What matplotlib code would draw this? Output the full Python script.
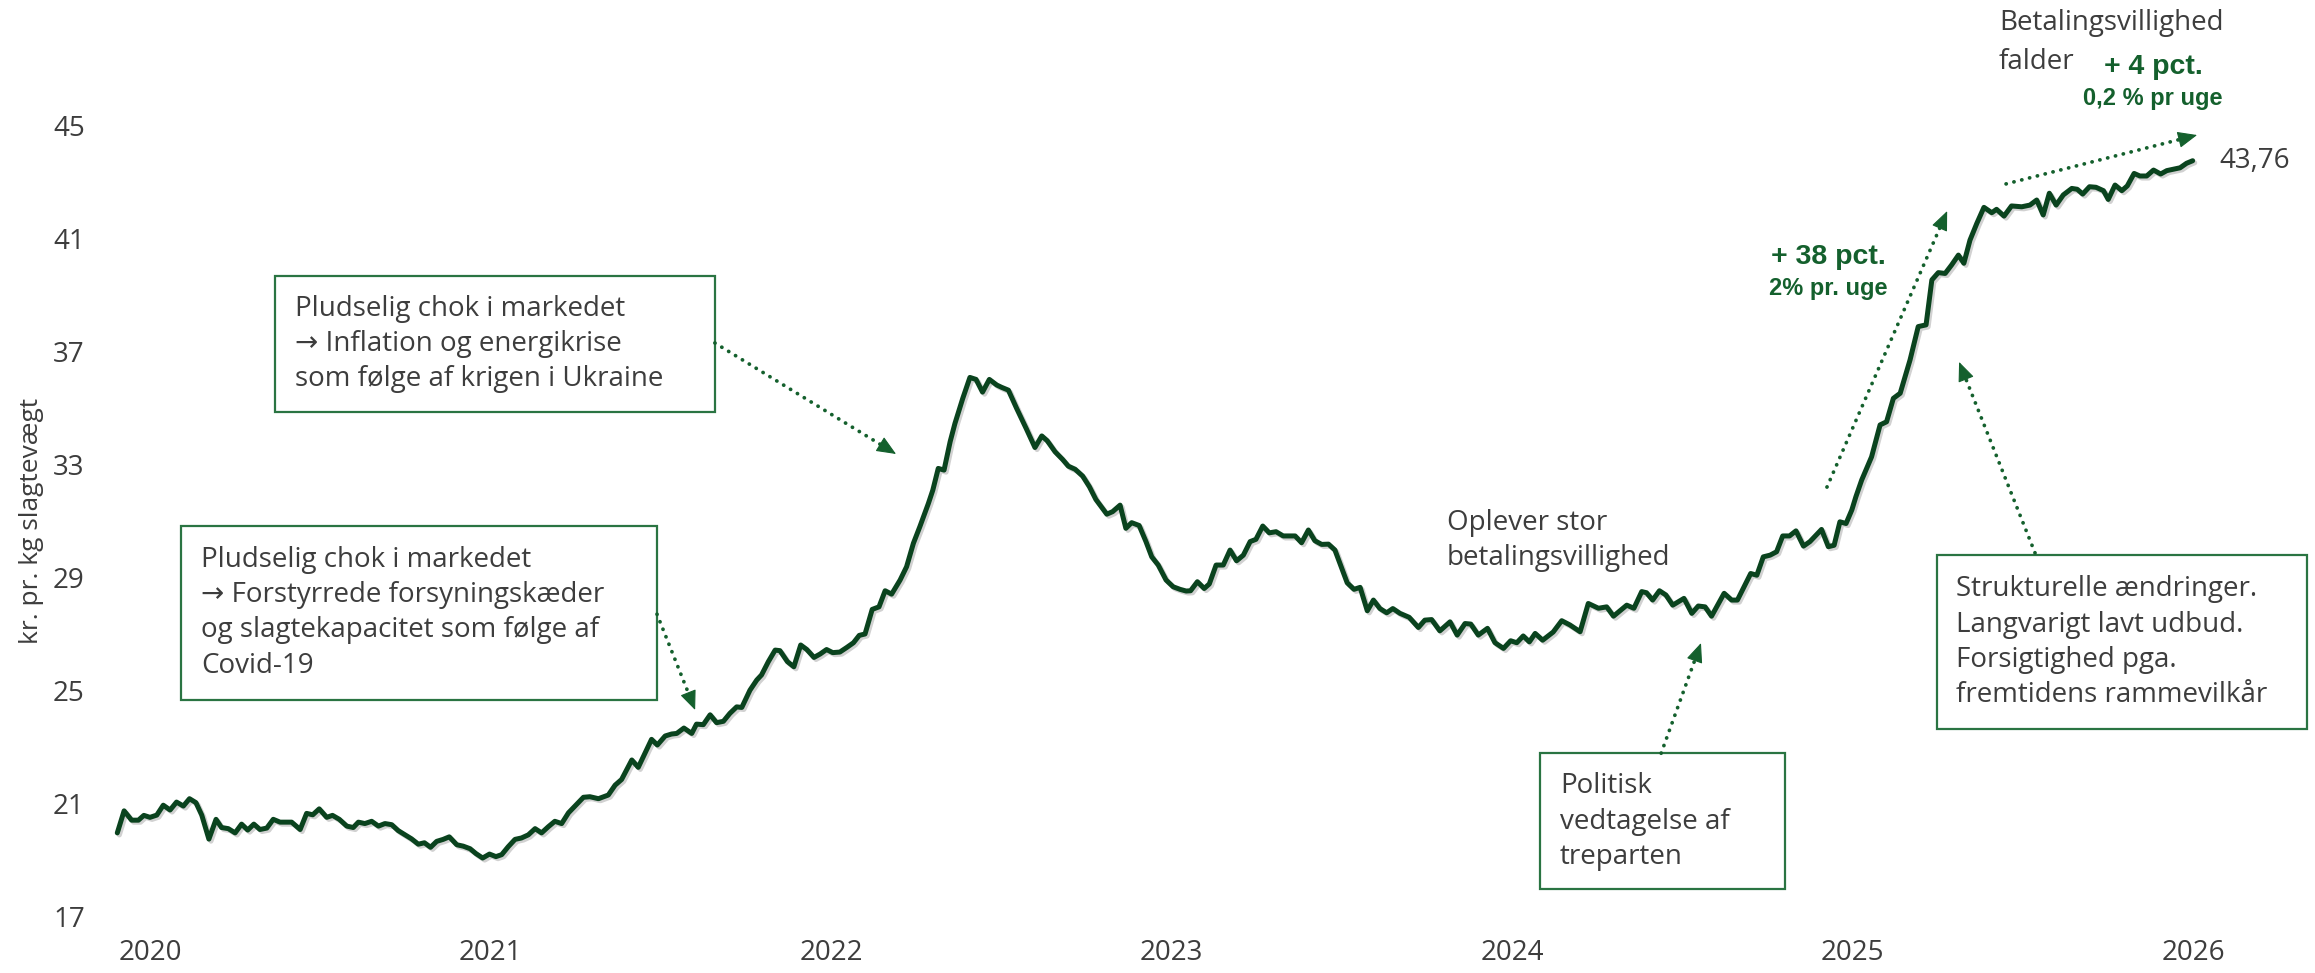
import matplotlib
matplotlib.use('Agg')
import matplotlib.pyplot as plt
import matplotlib.patheffects as pe
from matplotlib.patches import Rectangle
import numpy as np

# Notering pr. uge, kr. pr. kg slagtevægt
uge = [
    2019.904, 2019.924, 2019.946, 2019.966, 2019.982, 2020.000, 2020.020, 2020.039,
    2020.059, 2020.078, 2020.098, 2020.116, 2020.135, 2020.152, 2020.173, 2020.194,
    2020.210, 2020.230, 2020.250, 2020.269, 2020.287, 2020.305, 2020.323, 2020.343,
    2020.362, 2020.382, 2020.416, 2020.441, 2020.460, 2020.478, 2020.497, 2020.519,
    2020.536, 2020.556, 2020.578, 2020.597, 2020.612, 2020.631, 2020.651, 2020.671,
    2020.690, 2020.710, 2020.729, 2020.749, 2020.768, 2020.788, 2020.806, 2020.824,
    2020.842, 2020.861, 2020.879, 2020.901, 2020.920, 2020.940, 2020.957, 2020.977,
    2020.997, 2021.016, 2021.033, 2021.052, 2021.072, 2021.091, 2021.111, 2021.131,
    2021.150, 2021.170, 2021.189, 2021.209, 2021.229,
    2021.273, 2021.292, 2021.317, 2021.346, 2021.366, 2021.385, 2021.415, 2021.434,
    2021.473, 2021.490, 2021.513, 2021.532, 2021.547, 2021.568, 2021.591, 2021.605,
    2021.625, 2021.645, 2021.664, 2021.684, 2021.703, 2021.723, 2021.738, 2021.762,
    2021.782, 2021.796, 2021.816, 2021.836, 2021.850, 2021.872, 2021.891, 2021.911,
    2021.929, 2021.950, 2021.968, 2021.987, 2022.005, 2022.026, 2022.046, 2022.066,
    2022.083, 2022.100, 2022.121, 2022.141, 2022.159, 2022.178, 2022.203, 2022.222,
    2022.242, 2022.261, 2022.286, 2022.299, 2022.315, 2022.332, 2022.350,
    2022.364, 2022.387, 2022.408, 2022.426, 2022.445, 2022.465, 2022.487, 2022.501,
    2022.521, 2022.545, 2022.573, 2022.599, 2022.619, 2022.635, 2022.658, 2022.680,
    2022.697, 2022.717, 2022.739, 2022.759, 2022.778, 2022.810, 2022.827, 2022.849,
    2022.866, 2022.883, 2022.905, 2022.925, 2022.942, 2022.961, 2022.984, 2023.005,
    2023.025, 2023.043, 2023.056, 2023.076, 2023.096, 2023.111, 2023.131, 2023.152,
    2023.172, 2023.191, 2023.211, 2023.231, 2023.248, 2023.268, 2023.287, 2023.307,
    2023.328, 2023.363, 2023.382, 2023.402, 2023.421, 2023.441, 2023.461, 2023.480,
    2023.500, 2023.516, 2023.536, 2023.554, 2023.575, 2023.593, 2023.612, 2023.632,
    2023.650,
    2023.671, 2023.698, 2023.725, 2023.744, 2023.764, 2023.788, 2023.818, 2023.839,
    2023.862, 2023.879, 2023.901, 2023.928, 2023.950, 2023.975, 2023.996, 2024.014,
    2024.033, 2024.051, 2024.068, 2024.090, 2024.121, 2024.146, 2024.170, 2024.200,
    2024.224, 2024.254, 2024.278, 2024.298, 2024.337, 2024.358, 2024.381, 2024.395,
    2024.413, 2024.433, 2024.452, 2024.472, 2024.505, 2024.528, 2024.547, 2024.567,
    2024.586, 2024.623, 2024.645, 2024.662, 2024.679, 2024.701, 2024.719, 2024.738,
    2024.758, 2024.777, 2024.795, 2024.815, 2024.834, 2024.856, 2024.875, 2024.909,
    2024.929, 2024.946, 2024.963, 2024.981, 2024.998, 2025.010,
    2025.027, 2025.056, 2025.081, 2025.100, 2025.120, 2025.140, 2025.169, 2025.193,
    2025.216, 2025.233, 2025.252, 2025.272, 2025.291, 2025.311, 2025.327, 2025.345,
    2025.365, 2025.386, 2025.409, 2025.423, 2025.445, 2025.467, 2025.497, 2025.521,
    2025.541, 2025.560, 2025.578, 2025.598, 2025.619, 2025.644, 2025.660, 2025.676,
    2025.696, 2025.715, 2025.737, 2025.751, 2025.771, 2025.791, 2025.807, 2025.827,
    2025.844, 2025.864, 2025.884, 2025.905, 2025.923, 2025.942, 2025.962, 2025.981,
    2025.999,
]
pris = [
    19.97, 20.75, 20.42, 20.42, 20.59, 20.52, 20.60, 20.95,
    20.78, 21.06, 20.92, 21.18, 21.04, 20.60, 19.75, 20.45,
    20.16, 20.12, 19.97, 20.28, 20.07, 20.28, 20.09, 20.14,
    20.45, 20.35, 20.35, 20.09, 20.66, 20.61, 20.82, 20.52,
    20.59, 20.45, 20.21, 20.16, 20.35, 20.30, 20.38, 20.21,
    20.30, 20.26, 20.05, 19.90, 19.76, 19.57, 19.62, 19.46,
    19.67, 19.74, 19.83, 19.55, 19.50, 19.41, 19.24, 19.08,
    19.22, 19.13, 19.20, 19.48, 19.74, 19.79, 19.90, 20.12,
    19.97, 20.19, 20.38, 20.30, 20.68,
    21.23, 21.25, 21.18, 21.31, 21.66, 21.86, 22.55, 22.29,
    23.28, 23.08, 23.40, 23.47, 23.49, 23.68, 23.49, 23.82,
    23.80, 24.15, 23.87, 23.92, 24.20, 24.43, 24.41, 25.02,
    25.38, 25.56, 26.03, 26.44, 26.42, 26.03, 25.85, 26.62,
    26.46, 26.18, 26.30, 26.46, 26.35, 26.37, 26.53, 26.70,
    26.96, 27.01, 27.88, 27.97, 28.54, 28.42, 28.92, 29.39,
    30.22, 30.81, 31.63, 32.10, 32.87, 32.81, 33.82,
    34.46, 35.35, 36.09, 36.02, 35.57, 36.02, 35.82, 35.74,
    35.64, 35.00, 34.29, 33.61, 34.02, 33.85, 33.46, 33.19,
    32.95, 32.84, 32.60, 32.22, 31.77, 31.25, 31.34, 31.57,
    30.75, 30.95, 30.85, 30.28, 29.74, 29.45, 28.92, 28.68,
    28.59, 28.53, 28.54, 28.86, 28.62, 28.78, 29.45, 29.45,
    29.98, 29.60, 29.80, 30.28, 30.36, 30.83, 30.59, 30.63,
    30.48, 30.48, 30.24, 30.69, 30.31, 30.18, 30.19, 29.98,
    29.33, 28.82, 28.59, 28.66, 27.83, 28.21, 27.91, 27.76,
    27.91,
    27.74, 27.60, 27.24, 27.50, 27.52, 27.12, 27.44, 26.97,
    27.38, 27.36, 26.97, 27.21, 26.70, 26.50, 26.77, 26.70,
    26.94, 26.73, 27.03, 26.79, 27.08, 27.48, 27.33, 27.09,
    28.09, 27.92, 27.97, 27.64, 28.03, 27.92, 28.51, 28.47,
    28.21, 28.54, 28.39, 28.03, 28.27, 27.74, 28.00, 27.97,
    27.64, 28.45, 28.21, 28.21, 28.62, 29.15, 29.09, 29.74,
    29.80, 29.92, 30.48, 30.48, 30.66, 30.12, 30.28, 30.71,
    30.10, 30.15, 30.98, 30.92, 31.40, 31.87,
    32.46, 33.28, 34.41, 34.52, 35.35, 35.53, 36.71, 37.89,
    37.95, 39.54, 39.80, 39.77, 40.07, 40.42, 40.13, 40.95,
    41.54, 42.11, 41.92, 42.04, 41.80, 42.16, 42.13, 42.19,
    42.37, 41.84, 42.61, 42.19, 42.55, 42.78, 42.75, 42.58,
    42.84, 42.82, 42.70, 42.39, 42.90, 42.70, 42.87, 43.31,
    43.22, 43.22, 43.43, 43.29, 43.41, 43.46, 43.51, 43.67,
    43.76,
]

aar = [2020, 2021, 2022, 2023, 2024, 2025, 2026]
y_ticks = [17, 21, 25, 29, 33, 37, 41, 45]

LINE = '#0a431e'
GREEN = '#14602d'
BOX = '#2a7442'
GREY = '#3d3d3d'

plt.rcParams['font.family'] = ['Open Sans', 'DejaVu Sans']


def dotted_arrow(ax, start, end, head=17):
    # prikket linje med en udfyldt pilespids (spidsen tegnes for sig, ellers bliver den prikket)
    p0 = ax.transData.transform(start)
    p1 = ax.transData.transform(end)
    u = (p1 - p0) / np.hypot(*(p1 - p0))
    base = ax.transData.inverted().transform(p1 - u * head)
    ax.plot([start[0], base[0]], [start[1], base[1]], color=GREEN, lw=2.7,
            linestyle=(0, (0.05, 2.1)), dash_capstyle='round', clip_on=False)
    ax.annotate('', xy=end, xytext=base, annotation_clip=False,
                arrowprops=dict(arrowstyle=f'-|>,head_length={head * 0.72},head_width=5.2',
                                mutation_scale=1, color=GREEN, lw=0.8,
                                shrinkA=0, shrinkB=0))


def box(ax, x0, y0, x1, y1):
    ax.add_patch(Rectangle((x0, y0), x1 - x0, y1 - y0, fill=False,
                           edgecolor=BOX, lw=1.6, clip_on=False))


fig = plt.figure(figsize=(23.15, 9.73), dpi=100)
ax = fig.add_axes([100 / 2315, 56.2 / 973, 2200 / 2315, 791.1 / 973])

ax.set_xlim(2019.8532, 2026.3142)
ax.set_ylim(17, 45)

ax.plot(uge, pris, color=LINE, lw=3.6, solid_joinstyle='round', solid_capstyle='round',
        path_effects=[pe.SimpleLineShadow(offset=(1.5, -1.5), shadow_color='black', alpha=0.18),
                      pe.Normal()])

ax.set_xticks(aar)
ax.set_xticklabels([str(a) for a in aar])
ax.set_yticks(y_ticks)
ax.tick_params(axis='both', length=0, labelsize=20, labelcolor=GREY)
ax.tick_params(axis='y', pad=11)
ax.tick_params(axis='x', pad=16)
for s in ax.spines.values():
    s.set_visible(False)

fig.text(32 / 2315, 1 - 521 / 973, 'kr. pr. kg slagtevægt', rotation=90,
         ha='center', va='center', fontsize=19, color=GREY)

# seneste notering
ax.annotate(f'{pris[-1]:.2f}'.replace('.', ','), xy=(uge[-1], pris[-1]),
            xytext=(19, 0), textcoords='offset points', va='center', ha='left',
            fontsize=20, color=GREY, annotation_clip=False)

# tekstbokse
txt = dict(fontsize=20, color=GREY, ha='left', va='center', linespacing=1.35)
box(ax, 2020.367, 34.87, 2021.659, 39.68)
ax.text(2020.426, 37.27, 'Pludselig chok i markedet\n→ Inflation og energikrise\nsom følge af krigen i Ukraine', **txt)

box(ax, 2020.090, 24.67, 2021.489, 30.83)
ax.text(2020.151, 27.76, 'Pludselig chok i markedet\n→ Forstyrrede forsyningskæder\nog slagtekapacitet som følge af\nCovid-19', **txt)

box(ax, 2024.081, 17.98, 2024.802, 22.79)
ax.text(2024.141, 20.37, 'Politisk\nvedtagelse af\ntreparten', **txt)

box(ax, 2025.247, 23.64, 2026.334, 29.79)
ax.text(2025.304, 26.71, 'Strukturelle ændringer.\nLangvarigt lavt udbud.\nForsigtighed pga.\nfremtidens rammevilkår', **txt)

ax.text(2023.808, 30.32, 'Oplever stor\nbetalingsvillighed', **txt)
ax.text(2025.430, 48.65, 'Betalingsvillighed', **txt)
ax.text(2025.430, 47.27, 'falder', **txt)

bold = dict(family=['Liberation Sans', 'DejaVu Sans'], fontweight='bold', color=GREEN,
            ha='center', va='center')
ax.text(2024.928, 40.35, '+ 38 pct.', fontsize=20.5, **bold)
ax.text(2024.928, 39.25, '2% pr. uge', fontsize=17, **bold)
ax.text(2025.883, 47.09, '+ 4 pct.', fontsize=20.5, **bold)
ax.text(2025.883, 45.98, '0,2 % pr uge', fontsize=17, **bold)

# pile
dotted_arrow(ax, (2021.659, 37.31), (2022.191, 33.38))
dotted_arrow(ax, (2021.489, 27.71), (2021.601, 24.32))
dotted_arrow(ax, (2024.438, 22.79), (2024.555, 26.69))
dotted_arrow(ax, (2025.536, 29.88), (2025.313, 36.64))
dotted_arrow(ax, (2024.925, 32.21), (2025.278, 41.98))
dotted_arrow(ax, (2025.451, 42.94), (2026.012, 44.67))

fig.savefig('out.png', dpi=100)
